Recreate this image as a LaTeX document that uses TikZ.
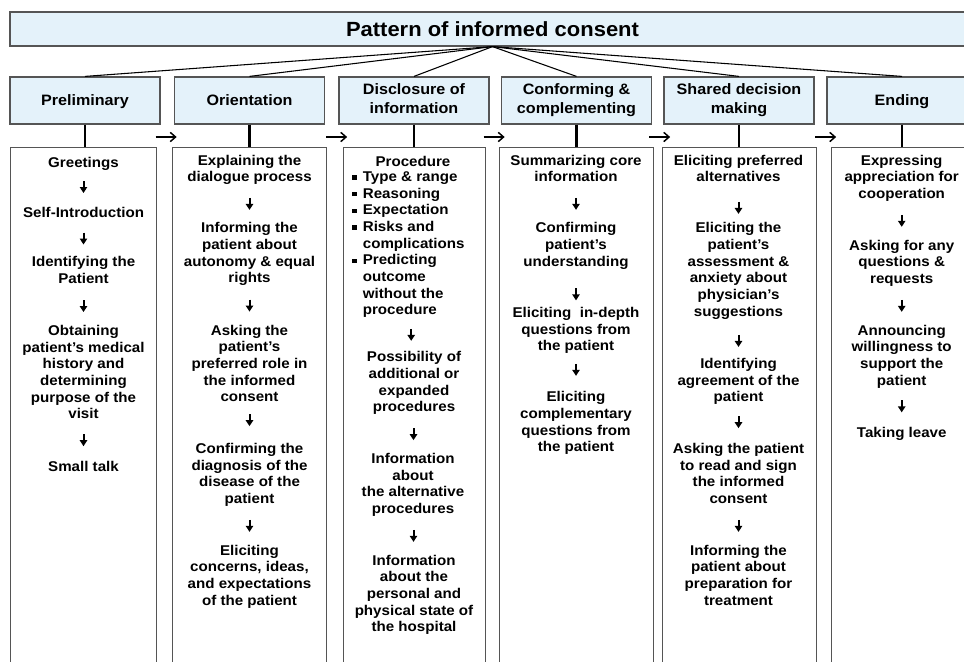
\documentclass[tikz,border=0pt]{standalone}
\usepackage{fontspec}
\setmainfont{Liberation Sans}[FakeStretch=1.07]
\usetikzlibrary{arrows.meta,calc}
\definecolor{hdrblue}{RGB}{228,242,250}
\definecolor{boxgray}{RGB}{85,85,85}
\newcommand\vst{\rule[-0.242em]{0pt}{1.2em}}
\newcommand\bsq{\makebox[0.75em][l]{\rule[0.14em]{0.3em}{0.3em}}}
\newcommand\ind{\hspace*{0.75em}}
\newcommand\darr[3][0]{\draw[darrow] ($(#2.south)!0.5!(#3.north)$) ++(0,{#1-6}) -- ++(0,12);}
\newcommand\harr[2]{\draw[harrow] ($(#1.north east)!0.5!(#2.north west)+(-9,-10)$) -- ++(21,0);}
\begin{document}
\begin{tikzpicture}[x=0.75pt,y=-0.75pt,
  hdr/.style={draw=boxgray, line width=0.9pt, fill=hdrblue, minimum width=112.5pt, minimum height=35.25pt, align=center, inner sep=0pt, font=\fontsize{11.3}{14}\selectfont\bfseries, execute at begin node=\vst, execute at end node=\vst},
  ttl/.style={draw=boxgray, line width=0.9pt, fill=hdrblue, minimum width=723.75pt, minimum height=25.5pt, inner sep=0pt, font=\fontsize{15.4}{18}\selectfont\bfseries, execute at begin node=\vst, execute at end node=\vst},
  cbox/.style={draw=boxgray, line width=1pt, anchor=north west, minimum height=420pt, inner sep=0pt},
  txt/.style={align=center, inner sep=0pt, font=\fontsize{10.6}{12.5}\selectfont\bfseries, execute at begin node=\vst, execute at end node=\vst},
  lst/.style={align=left, inner sep=0pt, font=\fontsize{10.6}{12.5}\selectfont\bfseries, execute at begin node=\vst, execute at end node=\vst},
  fan/.style={line width=0.8pt},
  vline/.style={line width=2pt},
  harrow/.style={line width=1.1pt, -{Straight Barb[length=4pt,width=7pt]}},
  darrow/.style={line width=1.5pt, -{Triangle[length=4.5pt,width=5.5pt]}},
]
\useasboundingbox (0,0) rectangle (964,661);
\clip (0,0) rectangle (964,661);
\fill[white] (0,0) rectangle (964,661);

% title and headers
\node[ttl] (title) at (492.5,29) {Pattern of informed consent};
\node[hdr] (h1) at (85,100.5) {Preliminary};
\node[hdr] (h2) at (249.5,100.5) {Orientation};
\node[hdr] (h3) at (414,100.5) {Disclosure of\\information};
\node[hdr] (h4) at (576.5,100.5) {Conforming \&\\complementing};
\node[hdr] (h5) at (739,100.5) {Shared decision\\making};
\node[hdr] (h6) at (902,100.5) {Ending};
\foreach \h in {h1,h2,h3,h4,h5,h6} \draw[fan] (title.south) -- (\h.north);

% content boxes
\node[cbox, minimum width=109.5pt] (c1) at (10,147) {};
\node[cbox, minimum width=115.5pt] (c2) at (172,147) {};
\node[cbox, minimum width=106.5pt] (c3) at (343,147) {};
\node[cbox, minimum width=115.5pt] (c4) at (499,147) {};
\node[cbox, minimum width=115.5pt] (c5) at (662,147) {};
\node[cbox, minimum width=112pt] (c6) at (831,147) {};

\draw[vline] (h1.south) -- (h1.south |- c1.north);
\draw[vline] (h2.south) -- (h2.south |- c2.north);
\draw[vline] (h3.south) -- (h3.south |- c3.north);
\draw[vline] (h4.south) -- (h4.south |- c4.north);
\draw[vline] (h5.south) -- (h5.south |- c5.north);
\draw[vline] (h6.south) -- (h6.south |- c6.north);

\harr{c1}{c2}
\harr{c2}{c3}
\harr{c3}{c4}
\harr{c4}{c5}
\harr{c5}{c6}

% column 1
\node[txt] (a1) at (83.5,162) {Greetings};
\node[txt] (a2) at (83.5,212) {Self-Introduction};
\node[txt] (a3) at (83.5,271.7) {Identifying the\\Patient};
\node[txt] (a4) at (83.5,373.7) {Obtaining\\patient’s medical\\history and\\determining\\purpose of the\\visit};
\node[txt] (a5) at (83.5,466.7) {Small talk};
\darr{a1}{a2}
\darr{a2}{a3}
\darr{a3}{a4}
\darr{a4}{a5}

% column 2
\node[txt] (b1) at (249.5,170) {Explaining the\\dialogue process};
\node[txt] (b2) at (249.5,254.5) {Informing the\\patient about\\autonomy \& equal\\rights};
\node[txt] (b3) at (249.5,365) {Asking the\\patient’s\\preferred role in\\the informed\\consent};
\node[txt] (b4) at (249.5,475) {Confirming the\\diagnosis of the\\disease of the\\patient};
\node[txt] (b5) at (249.5,576.7) {Eliciting\\concerns, ideas,\\and expectations\\of the patient};
\darr{b1}{b2}
\darr{b2}{b3}
\darr[-4]{b3}{b4}
\darr{b4}{b5}

% column 3
\node[txt] (d0) at (413,161.7) {Procedure};
\node[lst, anchor=west] (p1) at (352,245) {\bsq Type \& range\\\bsq Reasoning\\\bsq Expectation\\\bsq Risks and\\\ind complications\\\bsq Predicting\\\ind outcome\\\ind without the\\\ind procedure};
\node[txt] (d2) at (414,383.3) {Possibility of\\additional or\\expanded\\procedures};
\node[txt] (d3) at (413,485) {Information\\about\\the alternative\\procedures};
\node[txt] (d4) at (414,595) {Information\\about the\\personal and\\physical state of\\the hospital};
\darr{p1}{d2}
\darr{d2}{d3}
\darr{d3}{d4}

% column 4
\node[txt] (e1) at (576,170) {Summarizing core\\information};
\node[txt] (e2) at (576,246) {Confirming\\patient’s\\understanding};
\node[txt] (e3) at (576,330.7) {Eliciting\ \ in-depth\\questions from\\the patient};
\node[txt] (e4) at (576,423.3) {Eliciting\\complementary\\questions from\\the patient};
\darr{e1}{e2}
\darr[6]{e2}{e3}
\darr[-3]{e3}{e4}

% column 5
\node[txt] (f1) at (738.5,170) {Eliciting preferred\\alternatives};
\node[txt] (f2) at (738.5,271.2) {Eliciting the\\patient’s\\assessment \&\\anxiety about\\physician’s\\suggestions};
\node[txt] (f3) at (738.5,381.7) {Identifying\\agreement of the\\patient};
\node[txt] (f4) at (738.5,475) {Asking the patient\\to read and sign\\the informed\\consent};
\node[txt] (f5) at (738.5,576.7) {Informing the\\patient about\\preparation for\\treatment};
\darr[4]{f1}{f2}
\darr[2]{f2}{f3}
\darr[-2]{f3}{f4}
\darr{f4}{f5}

% column 6
\node[txt] (g1) at (901.7,178.3) {Expressing\\appreciation for\\cooperation};
\node[txt] (g2) at (901.7,263.3) {Asking for any\\questions \&\\requests};
\node[txt] (g3) at (901.7,356.7) {Announcing\\willingness to\\support the\\patient};
\node[txt] (g4) at (901.7,432.7) {Taking leave};
\darr{g1}{g2}
\darr{g2}{g3}
\darr{g3}{g4}
\end{tikzpicture}
\end{document}
